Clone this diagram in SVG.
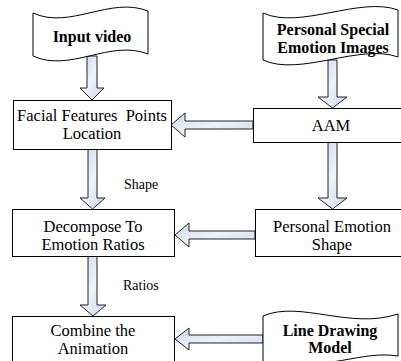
<svg xmlns="http://www.w3.org/2000/svg" width="401" height="361" viewBox="0 0 401 361">
<defs>
<linearGradient id="ag" x1="0" y1="0" x2="1" y2="1">
<stop offset="0" stop-color="#c8d6ea"/>
<stop offset="0.5" stop-color="#eef3fa"/>
<stop offset="1" stop-color="#c8d6ea"/>
</linearGradient>
<style>
.box{fill:#fff;stroke:#000;stroke-width:1}
.arr{fill:url(#ag);stroke:#222;stroke-width:1;stroke-linejoin:miter}
.t{font-family:"Liberation Serif","Times New Roman",serif;font-size:16.5px;fill:#000;text-anchor:middle}
.b{font-weight:bold;font-size:16px}
.l{font-family:"Liberation Serif","Times New Roman",serif;font-size:14px;fill:#000}
</style>
</defs>
<rect width="401" height="361" fill="#fff"/>
<g id="connectors">
<polygon class="arr" points="87,56 97,56 97,88 104,88 92,100 80,88 87,88"/>
<polygon class="arr" points="328,60 337,60 337,97 347,97 332.5,108 318,97 328,97"/>
<polygon class="arr" points="253,121 185,121 185,113 171,125 185,137 185,129 253,129"/>
<polygon class="arr" points="88,149 97,149 97,198 105,198 92.5,209 80,198 88,198"/>
<polygon class="arr" points="328,142 337,142 337,198 347,198 332.5,209 318,198 328,198"/>
<polygon class="arr" points="255,231 189,231 189,223 175,235 189,247 189,239 255,239"/>
<polygon class="arr" points="88,256 97,256 97,305 106,305 93,316 80,305 88,305"/>
<polygon class="arr" points="263,335 189,335 189,328 175,339 189,350 189,343 263,343"/>
<text class="l" x="124" y="189">Shape</text>
<text class="l" x="123" y="290">Ratios</text>
</g>
<g id="input-video">
<path class="box" d="M33,13 C70,30 110,-4 148,11 L148,54 C110,39 70,73 33,56 Z"/>
<text class="t b" x="92" y="42">Input video</text>
</g>
<g id="personal-special">
<path class="box" d="M263,13 C300,30 360,-4 398,10 L398,57 C360,43 300,77 263,60 Z"/>
<text class="t b" x="333" y="35">Personal Special</text>
<text class="t b" x="333" y="53">Emotion Images</text>
</g>
<g id="facial">
<rect class="box" x="13.5" y="100.5" width="158" height="49"/>
<text class="t" x="92" y="121" xml:space="preserve">Facial Features  Points</text>
<text class="t" x="92" y="139">Location</text>
</g>
<g id="aam">
<rect class="box" x="253.5" y="108.5" width="160" height="34"/>
<text class="t" x="331" y="131">AAM</text>
</g>
<g id="decompose">
<rect class="box" x="12.5" y="209.5" width="162" height="47"/>
<text class="t" x="93" y="232">Decompose To</text>
<text class="t" x="93" y="250">Emotion Ratios</text>
</g>
<g id="personal-emotion-shape">
<rect class="box" x="255.5" y="209.5" width="160" height="47"/>
<text class="t" x="332" y="232">Personal Emotion</text>
<text class="t" x="332" y="250">Shape</text>
</g>
<g id="combine">
<rect class="box" x="12.5" y="316.5" width="162" height="50"/>
<text class="t" x="93" y="336">Combine the</text>
<text class="t" x="93" y="354">Animation</text>
</g>
<g id="line-drawing">
<path class="box" d="M263,316 C300,300 350,330 398,314 L398,356 C360,350 330,372 263,362 Z"/>
<text class="t b" x="330" y="336">Line Drawing</text>
<text class="t b" x="330" y="353">Model</text>
</g>
</svg>
